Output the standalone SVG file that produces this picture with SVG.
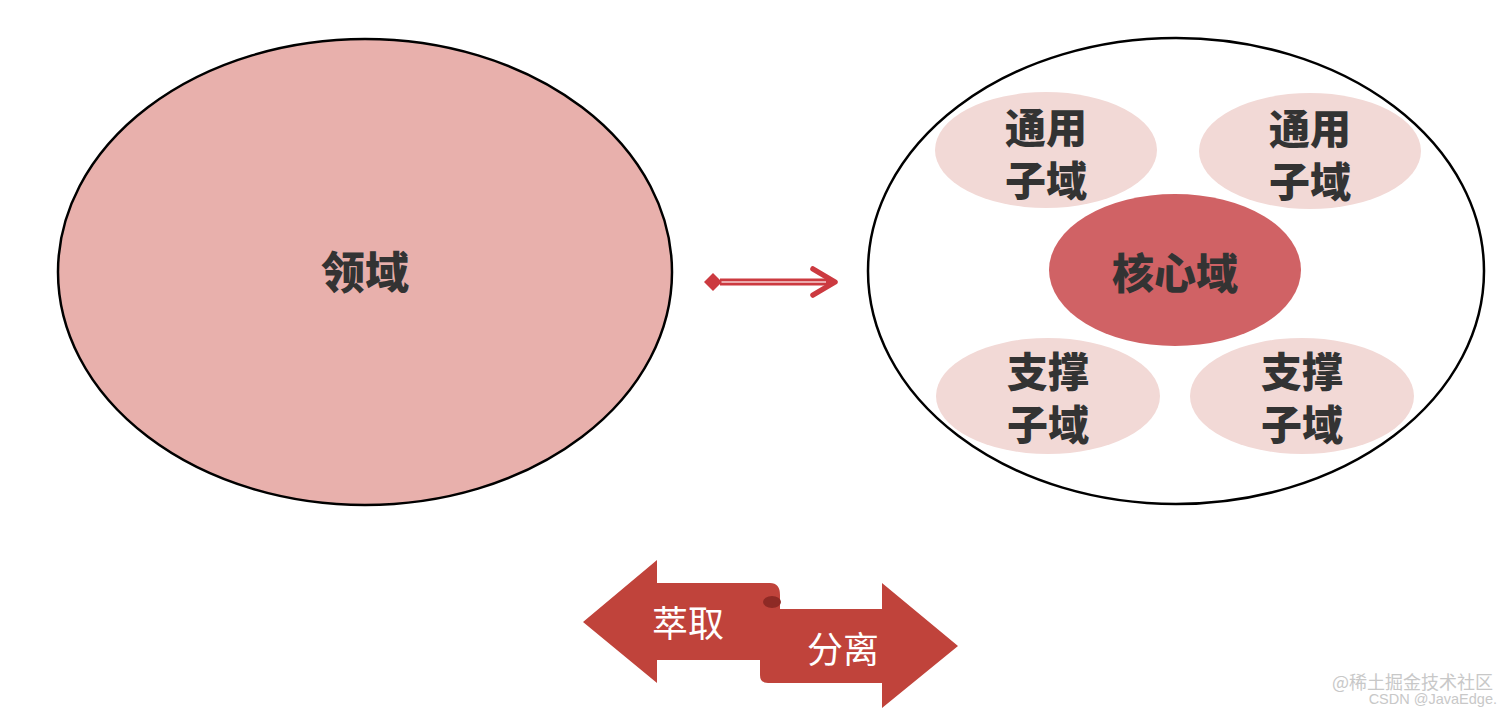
<svg xmlns="http://www.w3.org/2000/svg" width="1512" height="712" viewBox="0 0 1512 712">
<style>
.big{stroke:#000;stroke-width:2.5}
.sub{fill:#f2d9d6}
.lbl{font-family:"Noto Sans CJK SC",sans-serif;font-weight:900;fill:#333;text-anchor:middle;dominant-baseline:central}
.rib{font-family:"Noto Sans CJK SC",sans-serif;font-weight:400;fill:#fff;font-size:36px;text-anchor:middle;dominant-baseline:central}
.wm{font-family:"Noto Sans CJK SC","Liberation Sans",sans-serif;fill:#c8c8c8;text-anchor:end}
</style>
<rect width="1512" height="712" fill="#fff"/>
<g id="domain">
<ellipse class="big" cx="365" cy="272" rx="307" ry="233" fill="#e8b0ac"/>
<text class="lbl" x="365" y="270" font-size="44">领域</text>
</g>
<g id="split">
<ellipse class="big" cx="1176" cy="271" rx="308" ry="233" fill="#fff"/>
</g>
<g id="generic1">
<ellipse class="sub" cx="1046" cy="150" rx="111" ry="58"/>
<text class="lbl" x="1046" y="125" font-size="41">通用</text>
<text class="lbl" x="1046" y="178" font-size="41">子域</text>
</g>
<g id="generic2">
<ellipse class="sub" cx="1310" cy="151" rx="111" ry="58"/>
<text class="lbl" x="1310" y="126" font-size="41">通用</text>
<text class="lbl" x="1310" y="179" font-size="41">子域</text>
</g>
<g id="core">
<ellipse cx="1175" cy="270" rx="126" ry="76" fill="#d06265"/>
<text class="lbl" x="1175" y="270" font-size="42">核心域</text>
</g>
<g id="support1">
<ellipse class="sub" cx="1048" cy="396" rx="112" ry="58"/>
<text class="lbl" x="1048" y="369" font-size="41">支撑</text>
<text class="lbl" x="1048" y="422" font-size="41">子域</text>
</g>
<g id="support2">
<ellipse class="sub" cx="1302" cy="396" rx="112" ry="58"/>
<text class="lbl" x="1302" y="369" font-size="41">支撑</text>
<text class="lbl" x="1302" y="422" font-size="41">子域</text>
</g>
<g id="connectors">
<path d="M720 282 H830" stroke="#cc3a40" stroke-width="7" fill="none"/>
<path d="M720 282 H826" stroke="#f6d0d0" stroke-width="1.5" fill="none"/>
<polygon points="704,282 713,273 722,282 713,291" fill="#cc3a40"/>
<path d="M813 269 L835 282 L813 295" stroke="#cc3a40" stroke-width="5.5" fill="none" stroke-linecap="round" stroke-linejoin="round"/>
</g>
<g id="ribbon">
<path d="M583 622 L657 560 L657 583 L770 583 Q780 583 780 595 L780 609 L882 609 L882 583 L958 646 L882 708 L882 683 L768 683 Q760 683 760 675 L760 660 L657 660 L657 683 Z" fill="#c0433b"/>
<ellipse cx="772" cy="602" rx="9" ry="6" fill="#8e2a25"/>
<text class="rib" x="688" y="621">萃取</text>
<text class="rib" x="843" y="647">分离</text>
</g>
<g id="watermark">
<text class="wm" x="1493" y="689" font-size="18">@稀土掘金技术社区</text>
<text class="wm" x="1497" y="704" font-size="14.5" style="font-family:'Liberation Sans',sans-serif">CSDN @JavaEdge.</text>
</g>
</svg>
